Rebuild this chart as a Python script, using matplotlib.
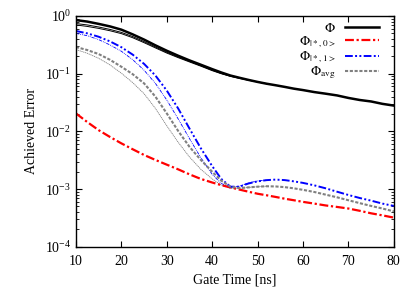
import numpy as np
import matplotlib
matplotlib.use("Agg")
import matplotlib.pyplot as plt

plt.rcParams['font.family'] = ['Liberation Serif', 'DejaVu Serif']
plt.rcParams['mathtext.fontset'] = 'stix'

# gate times [ns] shared by the thick curves
times = [10, 12.5, 15, 17.5, 20, 22.5, 25, 27.5, 30, 32.5, 35, 37.5, 40, 42, 44, 46, 48,
         50, 52, 54, 56, 58, 60, 62.5, 65, 67.5, 70, 72.5, 75, 77.5, 80]

phi = [0.85, 0.80, 0.73, 0.66, 0.58, 0.48, 0.39, 0.31, 0.25, 0.205, 0.17, 0.143, 0.12, 0.105, 0.093, 0.085, 0.078,
       0.072, 0.067, 0.063, 0.059, 0.055, 0.052, 0.048, 0.045, 0.042, 0.038, 0.035, 0.033, 0.030, 0.028]
phi0 = [0.0205, 0.0145, 0.0105, 8.0e-3, 6.2e-3, 4.9e-3, 3.9e-3, 3.2e-3, 2.65e-3, 2.2e-3, 1.8e-3, 1.5e-3, 1.3e-3,
        1.17e-3, 1.07e-3, 9.8e-4, 9.0e-4, 8.3e-4, 7.8e-4, 7.3e-4, 6.8e-4, 6.4e-4, 6.0e-4, 5.6e-4, 5.2e-4,
        4.9e-4, 4.6e-4, 4.2e-4, 3.8e-4, 3.5e-4, 3.2e-4]
phi1 = [0.55, 0.50, 0.437, 0.363, 0.288, 0.214, 0.148, 0.093, 0.051, 0.025, 0.0112, 5.1e-3, 2.5e-3, 1.5e-3, 1.1e-3,
        1.1e-3, 1.25e-3, 1.36e-3, 1.43e-3, 1.46e-3, 1.43e-3, 1.36e-3, 1.28e-3, 1.16e-3, 1.03e-3, 9.0e-4,
        7.9e-4, 7.0e-4, 6.3e-4, 5.6e-4, 5.1e-4]
phiavg = [0.29, 0.257, 0.219, 0.174, 0.132, 0.098, 0.068, 0.040, 0.0205, 0.0102, 5.4e-3, 3.2e-3, 2.0e-3, 1.4e-3,
          1.1e-3, 1.04e-3, 1.07e-3, 1.1e-3, 1.12e-3, 1.11e-3, 1.08e-3, 1.03e-3, 9.7e-4, 8.9e-4, 8.0e-4,
          7.2e-4, 6.4e-4, 5.7e-4, 5.1e-4, 4.6e-4, 4.1e-4]

# thin companion curves, they merge with the thick ones later on
times_thin = [10, 12.5, 15, 17.5, 20, 22.5, 25, 27.5, 30, 32.5, 35, 37.5, 40, 42, 44, 46, 48, 50, 52]
phi_thin_a = [0.70, 0.66, 0.61, 0.555, 0.495, 0.42, 0.345, 0.28, 0.228, 0.19, 0.16, 0.135, 0.113, 0.10, 0.09,
              0.083, 0.077, 0.072, 0.067]
phi_thin_b = [0.74, 0.70, 0.645, 0.585, 0.52, 0.44, 0.36, 0.29, 0.235, 0.195, 0.164, 0.138, 0.115, 0.101,
              0.091, 0.084, 0.0775, 0.072, 0.067]
phi1_thin = [0.50, 0.455, 0.39, 0.315, 0.245, 0.175, 0.115, 0.068, 0.035, 0.0165, 7.5e-3, 3.5e-3, 1.8e-3, 1.25e-3,
             1.07e-3, 1.12e-3, 1.28e-3, 1.38e-3, 1.44e-3]
phiavg_thin = [0.262, 0.226, 0.185, 0.142, 0.102, 0.070, 0.045, 0.025, 0.0125, 6.5e-3, 3.6e-3, 2.2e-3, 1.5e-3,
               1.17e-3, 1.03e-3, 1.03e-3, 1.07e-3, 1.1e-3, 1.12e-3]

fig = plt.figure(figsize=(4.15, 2.91), dpi=100)
ax = fig.add_axes([0.183, 0.152, 0.766, 0.793])

dashdot = (0, (4, 1.2, 1, 1.2))
dashdotdot = (0, (4, 1.2, 1, 1.2, 1, 1.2))
dotted = (0, (1.5, 0.8))

# thin lines first
ax.plot(times_thin, phi_thin_a, color='black', lw=0.7)
ax.plot(times_thin, phi_thin_b, color='black', lw=0.7)
ax.plot(times_thin, phi1_thin, color='blue', lw=0.6, linestyle=dashdotdot)
ax.plot(times_thin, phiavg_thin, color='gray', lw=0.6, linestyle=dotted)

ax.plot(times, phi, color='black', lw=1.8, label=r'$\Phi$')
ax.plot(times, phi0, color='red', lw=1.6, linestyle=dashdot, label=r'$\Phi_{|*,0>}$')
ax.plot(times, phi1, color='blue', lw=1.4, linestyle=dashdotdot, label=r'$\Phi_{|*,1>}$')
ax.plot(times, phiavg, color='gray', lw=1.5, linestyle=dotted, label=r'$\Phi_{\rm avg}$')

ax.set_yscale('log')
ax.set_xlim(10, 80)
ax.set_ylim(1e-4, 1)
ax.set_xticks([10, 20, 30, 40, 50, 60, 70, 80])
ax.tick_params(which='both', direction='in', top=True, right=True, labelsize=10)
ax.tick_params(which='major', length=4)
ax.tick_params(which='minor', length=2)
ax.tick_params(axis='x', pad=6)
for s in ax.spines.values():
    s.set_linewidth(1.0)

ax.set_xlabel('Gate Time [ns]', fontsize=10, labelpad=4)
ax.set_ylabel('Achieved Error', fontsize=10, labelpad=5)

ax.legend(loc='upper right', bbox_to_anchor=(0.975, 1.003), frameon=False, markerfirst=False,
          fontsize=9.5, handlelength=2.6, labelspacing=-0.05, borderpad=0.0, handletextpad=0.7)

fig.savefig('out.png', dpi=100)
